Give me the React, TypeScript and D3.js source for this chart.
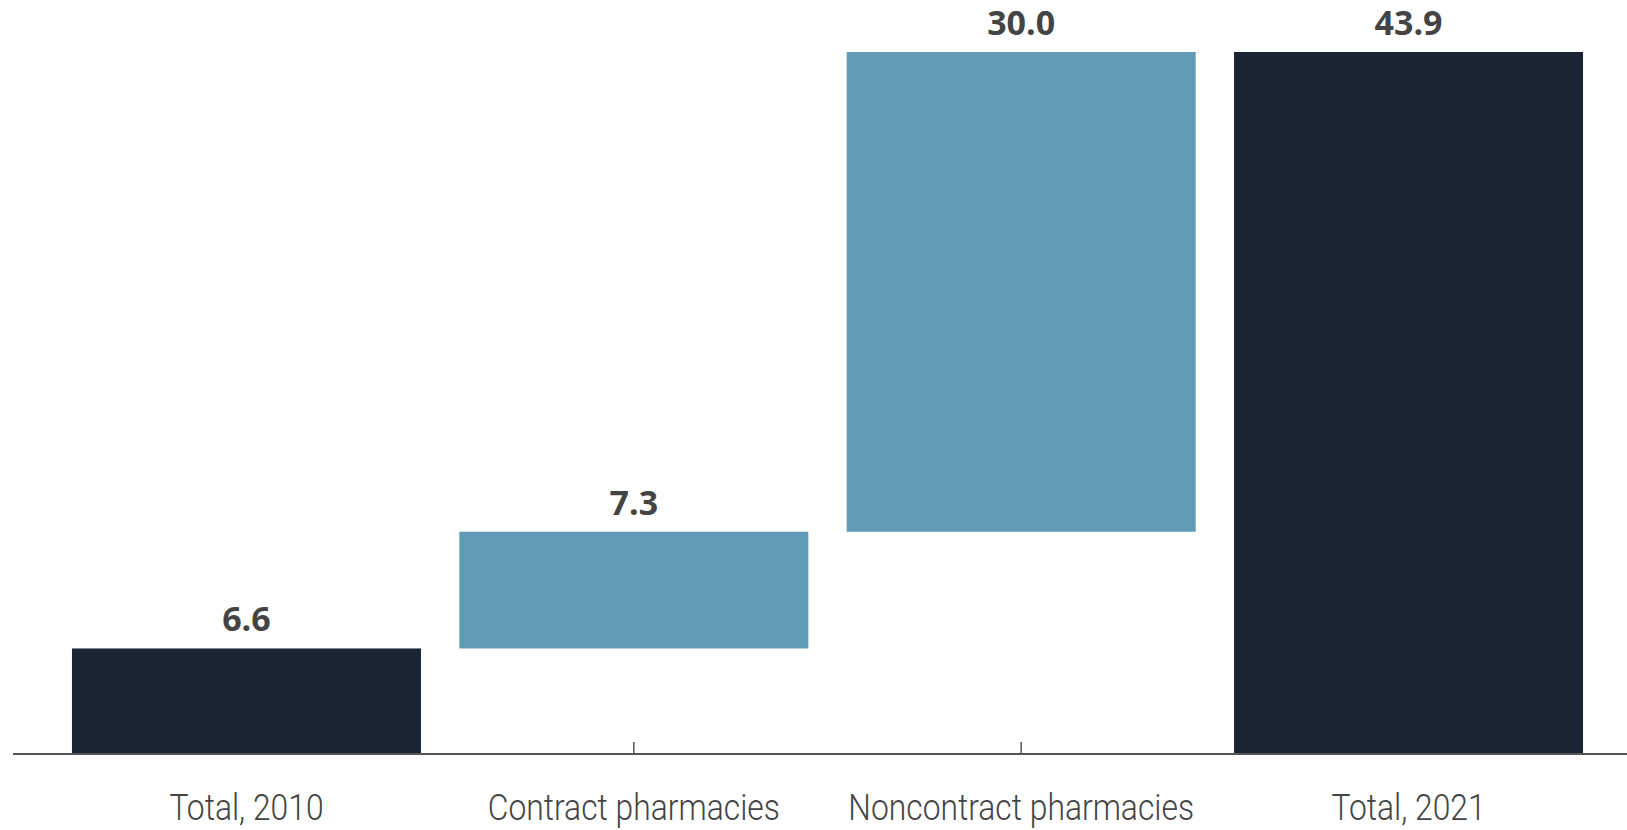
import React from "react";
import * as d3 from "d3";

const categories = ["Total, 2010", "Contract pharmacies", "Noncontract pharmacies", "Total, 2021"];
const values = [6.6, 7.3, 30.0, 43.9];
const kinds = ["total", "delta", "delta", "total"];
const valueLabels = ["6.6", "7.3", "30.0", "43.9"];

const W = 1627;
const H = 830;
const NAVY = "#1a2533";
const TEAL = "#629bb5";
const TEXT = "#444444";

export default function App() {
  const x = d3
    .scaleBand<string>()
    .domain(categories)
    .range([52.6, 1602.4])
    .paddingInner(0.099)
    .paddingOuter(0.05);
  const y = d3.scaleLinear().domain([0, 43.9]).range([754, 52]);

  let running = 0;
  const bars = categories.map((c, i) => {
    let start: number, end: number;
    if (kinds[i] === "total") {
      start = 0;
      end = values[i];
      running = values[i];
    } else {
      start = running;
      end = running + values[i];
      running = end;
    }
    return { c, start, end, kind: kinds[i], label: valueLabels[i] };
  });

  return (
    <svg
      width={W}
      height={H}
      style={{ position: "absolute", left: 0, top: 0, background: "#fff" }}
    >
      {categories.map((c) => (
        <line
          key={"t" + c}
          x1={x(c)! + x.bandwidth() / 2}
          x2={x(c)! + x.bandwidth() / 2}
          y1={y(0)}
          y2={y(0) - 12}
          stroke="#555"
          strokeWidth={1.5}
        />
      ))}
      {bars.map((b) => (
        <rect
          key={b.c}
          x={x(b.c)}
          width={x.bandwidth()}
          y={y(Math.max(b.start, b.end))}
          height={Math.abs(y(b.start) - y(b.end))}
          fill={b.kind === "total" ? NAVY : TEAL}
        />
      ))}
      <line x1={13} x2={W} y1={y(0)} y2={y(0)} stroke="#555" strokeWidth={2} />
      {bars.map((b) => (
        <text
          key={"v" + b.c}
          x={x(b.c)! + x.bandwidth() / 2}
          y={y(Math.max(b.start, b.end)) - 17}
          textAnchor="middle"
          fontFamily="'Open Sans', sans-serif"
          fontWeight={700}
          fontSize={34}
          fill={TEXT}
        >
          {b.label}
        </text>
      ))}
      {categories.map((c) => (
        <text
          key={"c" + c}
          transform={`translate(${x(c)! + x.bandwidth() / 2},820) scale(0.86,1)`}
          textAnchor="middle"
          fontFamily="Roboto, sans-serif"
          fontWeight={300}
          fontSize={37}
          fill={TEXT}
        >
          {c}
        </text>
      ))}
    </svg>
  );
}
